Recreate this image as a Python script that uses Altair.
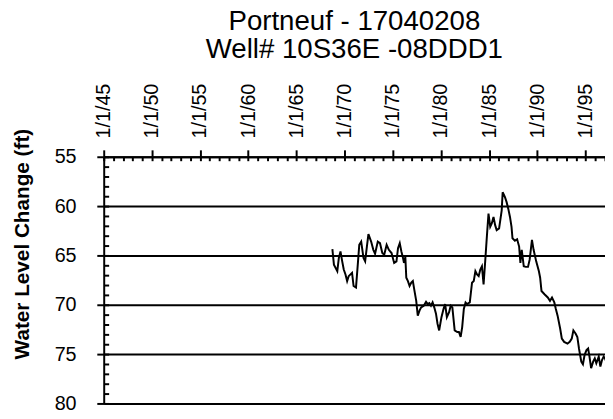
import altair as alt
import pandas as pd

# ---- data (decimal year, water level change in ft) ----
years = [
    1968.73, 1968.89, 1969.24, 1969.40, 1969.57, 1969.75, 1969.91, 1970.09, 1970.26, 1970.42,
    1970.77, 1970.93, 1971.18, 1971.39, 1971.52, 1971.72, 1971.96, 1972.13, 1972.31, 1972.47,
    1972.75, 1972.98, 1973.16, 1973.44, 1973.67, 1973.91, 1974.11, 1974.36, 1974.59, 1974.87,
    1975.14, 1975.38, 1975.54, 1975.72, 1975.89, 1976.06, 1976.16, 1976.30, 1976.40, 1976.57,
    1976.74, 1976.92, 1977.08, 1977.25, 1977.43, 1977.59, 1977.77, 1977.94, 1978.21, 1978.45,
    1978.62, 1978.79, 1978.96, 1979.13, 1979.30, 1979.48, 1979.64, 1979.81, 1980.05, 1980.26,
    1980.43, 1980.61, 1980.84, 1981.01, 1981.18, 1981.42, 1981.69, 1981.86, 1982.04, 1982.20,
    1982.37, 1982.55, 1982.71, 1982.99, 1983.22, 1983.40, 1983.57, 1983.74, 1983.91, 1984.08,
    1984.25, 1984.42, 1984.60, 1984.76, 1984.93, 1985.11, 1985.27, 1985.45, 1985.62, 1985.78,
    1986.03, 1986.30, 1986.40, 1986.64, 1986.81, 1986.98, 1987.16, 1987.32, 1987.42, 1987.67,
    1987.90, 1988.11, 1988.24, 1988.38, 1988.59, 1988.79, 1989.03, 1989.20, 1989.44, 1989.61,
    1989.88, 1990.16, 1990.29, 1990.43, 1990.74, 1991.08, 1991.31, 1991.52, 1991.76, 1991.92,
    1992.10, 1992.37, 1992.54, 1992.78, 1993.13, 1993.36, 1993.57, 1993.74, 1993.98, 1994.15,
    1994.32, 1994.56, 1994.73, 1994.90, 1995.10, 1995.27, 1995.41, 1995.58, 1995.79, 1995.96,
    1996.12, 1996.37, 1996.54, 1996.71, 1996.88, 1997.02, 1997.20,
]
levels = [
    64.36, 65.93, 66.60, 65.26, 64.60, 65.60, 66.43, 66.93, 67.60, 67.10,
    66.76, 68.10, 68.26, 65.60, 63.93, 63.60, 65.26, 65.60, 64.10, 62.83,
    63.60, 64.43, 64.83, 63.60, 63.76, 64.76, 64.93, 63.93, 64.43, 64.76,
    65.76, 65.60, 64.26, 63.76, 64.60, 65.26, 65.76, 65.16, 67.26, 67.60,
    68.10, 67.76, 67.60, 68.60, 69.60, 71.10, 70.60, 70.26, 70.10, 69.70,
    69.93, 69.83, 70.10, 69.76, 70.26, 70.90, 71.92, 72.60, 71.26, 70.43,
    69.93, 71.26, 70.76, 70.10, 70.26, 72.60, 72.76, 72.76, 73.26, 72.26,
    70.43, 69.76, 69.93, 69.76, 67.76, 67.60, 66.60, 66.93, 67.10, 66.43,
    66.10, 67.93, 65.43, 63.10, 60.76, 62.10, 61.76, 61.10, 61.93, 62.43,
    62.26, 60.43, 58.60, 59.10, 59.60, 60.26, 61.10, 62.10, 63.26, 63.50,
    63.36, 64.10, 65.76, 64.43, 66.10, 66.16, 66.16, 65.43, 63.43, 64.43,
    65.60, 66.60, 67.26, 68.60, 68.93, 69.26, 69.60, 69.26, 69.76, 70.43,
    71.10, 72.43, 73.43, 73.76, 73.93, 73.76, 73.43, 72.60, 72.93, 73.26,
    74.43, 75.76, 76.03, 75.10, 74.60, 74.43, 75.26, 76.43, 75.76, 75.43,
    75.93, 75.26, 76.26, 75.60, 75.26, 75.43, 75.90,
]

x_major = [1945, 1950, 1955, 1960, 1965, 1970, 1975, 1980, 1985, 1990, 1995]
x_minor = list(range(1945, 1998))
y_major = [55, 60, 65, 70, 75, 80]
y_minor = list(range(55, 81))
title_lines = ["Portneuf - 17040208", "Well# 10S36E -08DDD1"]
y_title = "Water Level Change (ft)"

FONT = "Liberation Sans, Arial, Helvetica, sans-serif"

df = pd.DataFrame({"year": years, "level": levels})

xscale = alt.Scale(domain=[1945, 1997.02], nice=False, zero=False)
yscale = alt.Scale(domain=[55, 80], reverse=True, nice=False, zero=False)

x_major_axis = alt.Axis(
    orient="top", values=x_major, title=None,
    labelExpr="'1/1/' + substring(toString(datum.value), 2, 4)",
    labelAngle=270, labelAlign="left", labelBaseline="middle",
    labelFont=FONT, labelFontSize=20, labelColor="black", labelPadding=12,
    labelFlush=False, labelOverlap=False,
    tickSize=7, tickWidth=2, tickColor="black",
    domain=True, domainColor="black", domainWidth=2, grid=False,
)
y_major_axis = alt.Axis(
    orient="left", values=y_major, title=y_title,
    labelFont=FONT, labelFontSize=20, labelColor="black", labelPadding=21,
    labelFlush=False, labelOverlap=False,
    tickSize=7, tickWidth=2, tickColor="black",
    domain=True, domainColor="black", domainWidth=2,
    grid=True, gridColor="black", gridWidth=2,
    titleFont=FONT, titleFontSize=21, titleFontWeight="bold", titleColor="black",
    titleAngle=270, titleX=-76, titleY=88, titleAlign="center",
    titleBaseline="alphabetic", titleAnchor="start",
)
x_minor_axis = alt.Axis(
    orient="top", values=x_minor, title=None, labels=False, domain=False,
    grid=False, tickSize=4, tickWidth=2, tickColor="black", offset=-4,
)
y_minor_axis = alt.Axis(
    orient="left", values=y_minor, title=None, labels=False, domain=False,
    grid=False, tickSize=5, tickWidth=2, tickColor="black", offset=-5,
)

line = alt.Chart(df).mark_line(color="black", strokeWidth=2, clip=True).encode(
    x=alt.X("year:Q", scale=xscale, axis=x_major_axis),
    y=alt.Y("level:Q", scale=yscale, axis=y_major_axis),
)
minor = alt.Chart(df).mark_line(opacity=0, clip=True).encode(
    x=alt.X("year:Q", scale=xscale, axis=x_minor_axis),
    y=alt.Y("level:Q", scale=yscale, axis=y_minor_axis),
)

chart = alt.layer(line, minor).resolve_axis(
    x="independent", y="independent"
).properties(
    width=508,
    height=250,
    autosize=alt.AutoSizeParams(type="none"),
    padding={"left": 97, "top": 148, "right": 0, "bottom": 12},
    title=alt.TitleParams(
        text=title_lines, font=FONT, fontSize=28, fontWeight="normal",
        color="black", anchor="middle", frame="group", lineHeight=29, offset=19,
    ),
).configure_view(stroke="transparent").configure(background="white")

chart.save("out.html", embed_options={"renderer": "svg", "actions": False})
